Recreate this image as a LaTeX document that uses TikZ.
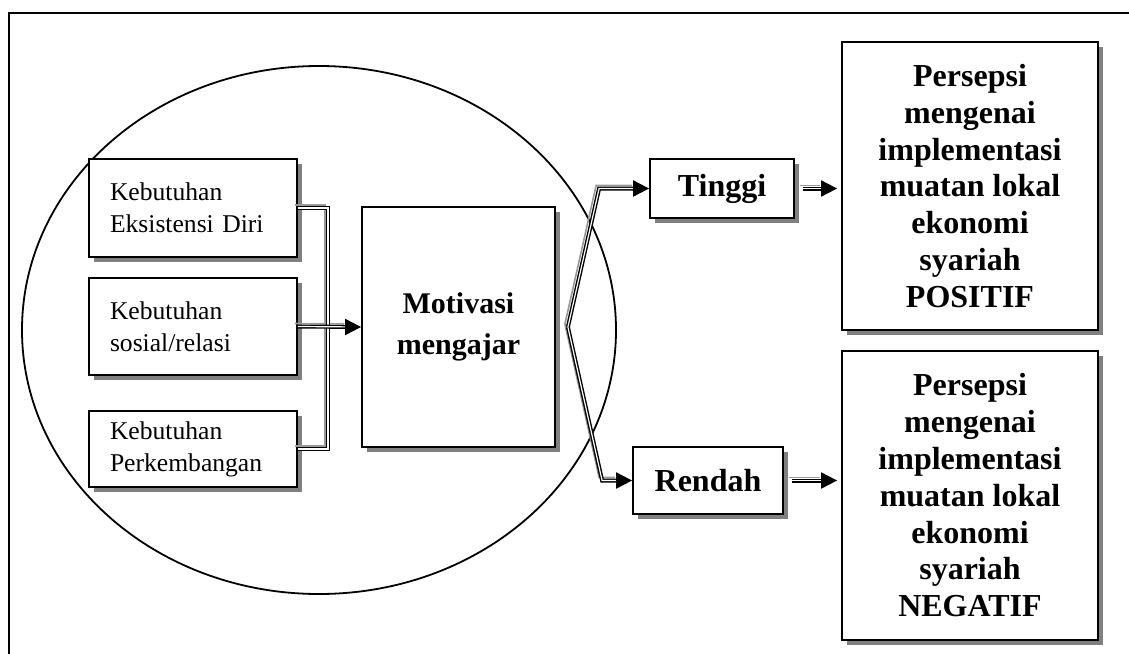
\documentclass[tikz,border=0pt]{standalone}
\usepackage{fontspec}
\setmainfont{Liberation Serif}
\usetikzlibrary{positioning,shadows,arrows.meta}
\tikzset{
    >={Triangle[length=8pt,width=8pt]},
    kebbox/.style={
        rectangle,
        draw=black, line width=0.9pt,
        fill=white,
        drop shadow={shadow xshift=2.5pt, shadow yshift=-2.5pt, fill=black!50, opacity=1},
        text width=83pt,
        inner xsep=10.5pt,
        align=left,
        font=\fontsize{12.8}{16}\selectfont
    },
    hasilbox/.style={
        rectangle,
        draw=black, line width=0.9pt,
        fill=white,
        drop shadow={shadow xshift=2.5pt, shadow yshift=-2.5pt, fill=black!50, opacity=1},
        inner sep=0pt,
        align=center,
        font=\bfseries\fontsize{16}{18.4}\selectfont
    },
    pipe/.style={draw=black, line width=0.7pt, double=white, double distance=0.6pt},
    pipeshade/.style={draw=black!40, line width=0.8pt, transform canvas={xshift=-1.5pt, yshift=1.5pt}},
    tip/.style={->, line width=1pt}
}
\begin{document}
\begin{tikzpicture}[x=0.5pt, y=-0.5pt]
    \useasboundingbox (0,0) rectangle (1129,653);
    \draw[line width=0.8pt] (9,13) rectangle (1160,690);
    \draw[line width=0.9pt] (319,330) ellipse [x radius=297, y radius=264];

    \node[kebbox, minimum height=49pt] (keb1) at (193,208) {Kebutuhan\\Eksistensi Diri};
    \node[kebbox, minimum height=48.5pt] (keb2) at (193,326.5) {Kebutuhan\\sosial/relasi};
    \node[kebbox, minimum height=38pt] (keb3) at (193,449) {Kebutuhan\\Perkembangan};

    \node[hasilbox, minimum width=96.5pt, minimum height=120pt,
          font=\bfseries\fontsize{15}{20.5}\selectfont] (motivasi) at (458.5,327) {Motivasi\\mengajar};

    \node[hasilbox, minimum width=72pt, minimum height=29.5pt] (tinggi) at (722,188.5) {Tinggi};
    \node[hasilbox, minimum width=75pt, minimum height=33.5pt] (rendah) at (708,480.5) {Rendah};

    \node[hasilbox, minimum width=128pt, minimum height=144pt] (positif) at (970,186)
        {Persepsi\\mengenai\\implementasi\\muatan lokal\\ekonomi\\syariah\\POSITIF};
    \node[hasilbox, minimum width=128pt, minimum height=144.5pt, below=9.5pt of positif] (negatif)
        {Persepsi\\mengenai\\implementasi\\muatan lokal\\ekonomi\\syariah\\NEGATIF};

    % -- connectors -- %
    \coordinate (barTop) at ([xshift=15pt]keb1.east);
    \coordinate (barBot) at (barTop |- keb3.east);
    \coordinate (fork) at ([xshift=6pt]motivasi.east);
    \path (tinggi.east -| positif.west) coordinate (posIn);
    \path (rendah.east -| negatif.west) coordinate (negIn);

    \foreach \sty in {pipeshade,pipe}{
        \draw[\sty] (keb1.east) -- (barTop) -- (barBot) -- (keb3.east);
        \draw[\sty, shorten >=7pt] (keb2.east) -- (motivasi.west);
        \draw[\sty, shorten >=7pt] (fork) -- ([xshift=-25pt]tinggi.west) -- (tinggi.west);
        \draw[\sty, shorten >=7pt] (fork) -- ([xshift=-15pt]rendah.west) -- (rendah.west);
        \draw[\sty, shorten <=4pt, shorten >=9pt] (tinggi.east) -- (posIn);
        \draw[\sty, shorten <=4pt, shorten >=9pt] (rendah.east) -- (negIn);
    }

    \draw[tip] ([xshift=-8pt]motivasi.west) -- (motivasi.west);
    \draw[tip] ([xshift=-8pt]tinggi.west) -- (tinggi.west);
    \draw[tip] ([xshift=-8pt]rendah.west) -- (rendah.west);
    \draw[tip] ([xshift=-10pt]posIn) -- ([xshift=-2pt]posIn);
    \draw[tip] ([xshift=-10pt]negIn) -- ([xshift=-2pt]negIn);
\end{tikzpicture}
\end{document}
